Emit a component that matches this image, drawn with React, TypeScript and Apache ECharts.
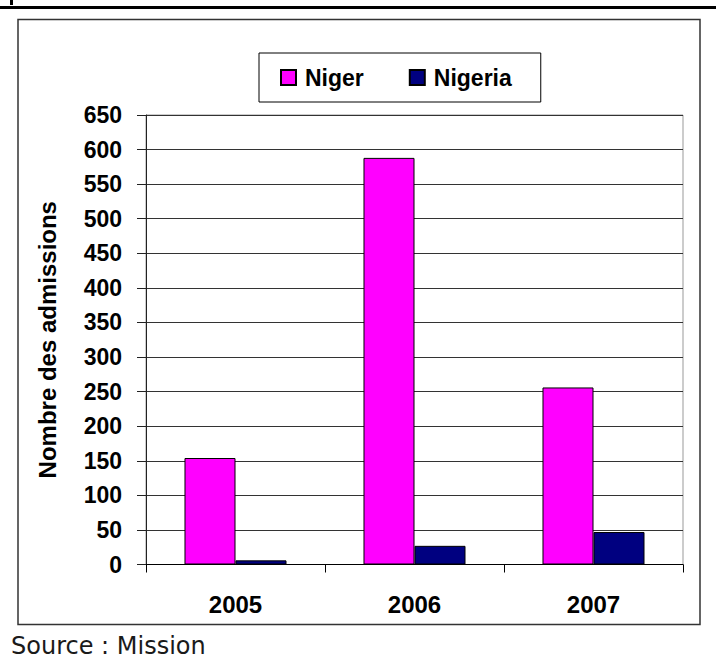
import React, { useEffect, useRef } from "react";
import * as echarts from "echarts";

const categories = ["2005", "2006", "2007"];
const nigerValues = [154, 588, 256];
const nigeriaValues = [6, 27, 47];
const seriesNames = ["Niger", "Nigeria"];
const yTitle = "Nombre des admissions";
const sourceText = "Source : Mission";

const FONT = "'Liberation Sans', Arial, Helvetica, sans-serif";
const SRC_FONT = "'DejaVu Sans', Verdana, sans-serif";

export default function App() {
  const ref = useRef<HTMLDivElement>(null);
  useEffect(() => {
    if (!ref.current) return;
    const chart = echarts.init(ref.current, null, { renderer: "svg" });
    chart.setOption({
      animation: false,
      backgroundColor: "#ffffff",
      textStyle: { fontFamily: FONT },
      grid: {
        left: 146,
        top: 115,
        width: 537,
        height: 449.5,
        show: true,
        borderColor: "#999999",
        borderWidth: 1,
        backgroundColor: "transparent",
      },
      legend: {
        left: 259,
        top: 53,
        padding: [13, 29, 13, 21],
        backgroundColor: "#ffffff",
        borderColor: "#000000",
        borderWidth: 1,
        itemWidth: 15,
        itemHeight: 15,
        itemGap: 45,
        icon: "rect",
        data: seriesNames,
        textStyle: {
          fontFamily: FONT,
          fontWeight: "bold",
          fontSize: 23,
          color: "#000000",
          padding: [0, 0, 0, 4],
        },
      },
      xAxis: {
        type: "category",
        data: categories,
        axisLine: { lineStyle: { color: "#000000", width: 1 } },
        axisTick: { show: true, length: 8, lineStyle: { color: "#000000" } },
        axisLabel: {
          margin: 28,
          fontFamily: FONT,
          fontWeight: "bold",
          fontSize: 24,
          color: "#000000",
        },
      },
      yAxis: {
        type: "value",
        min: 0,
        max: 650,
        interval: 50,
        name: yTitle,
        nameLocation: "middle",
        nameRotate: 90,
        nameGap: 87,
        nameTextStyle: {
          fontFamily: FONT,
          fontWeight: "bold",
          fontSize: 24,
          color: "#000000",
        },
        axisLine: { show: true, lineStyle: { color: "#222222", width: 1 } },
        axisTick: { show: true, length: 9, lineStyle: { color: "#222222" } },
        axisLabel: {
          margin: 24,
          fontFamily: FONT,
          fontWeight: "bold",
          fontSize: 23,
          color: "#000000",
        },
        splitLine: { show: true, lineStyle: { color: "#333333", width: 1 } },
      },
      series: [
        {
          name: seriesNames[0],
          type: "bar",
          data: nigerValues,
          barGap: "0%",
          barCategoryGap: "43%",
          itemStyle: { color: "#FF00FF", borderColor: "#000000", borderWidth: 1 },
        },
        {
          name: seriesNames[1],
          type: "bar",
          data: nigeriaValues,
          barGap: "0%",
          barCategoryGap: "43%",
          itemStyle: { color: "#000080", borderColor: "#000000", borderWidth: 1 },
        },
      ],
      graphic: [
        {
          type: "rect",
          z: -10,
          silent: true,
          shape: { x: 0, y: 6, width: 716, height: 3 },
          style: { fill: "#000000" },
        },
        {
          type: "rect",
          z: -10,
          silent: true,
          shape: { x: 10, y: 0, width: 3, height: 5 },
          style: { fill: "#000000" },
        },
        {
          type: "rect",
          z: -10,
          silent: true,
          shape: { x: 18, y: 19.5, width: 682, height: 605 },
          style: { fill: "none", stroke: "#333333", lineWidth: 1.5 },
        },
        {
          type: "text",
          x: 11,
          y: 646,
          silent: true,
          style: {
            text: sourceText,
            fontFamily: SRC_FONT,
            fontSize: 24,
            fontWeight: 500,
            fill: "#1a1a1a",
            verticalAlign: "middle",
            align: "left",
          },
        },
      ],
    });
    return () => chart.dispose();
  }, []);
  return (
    <div
      ref={ref}
      style={{ position: "fixed", left: 0, top: 0, width: 716, height: 660 }}
    />
  );
}
